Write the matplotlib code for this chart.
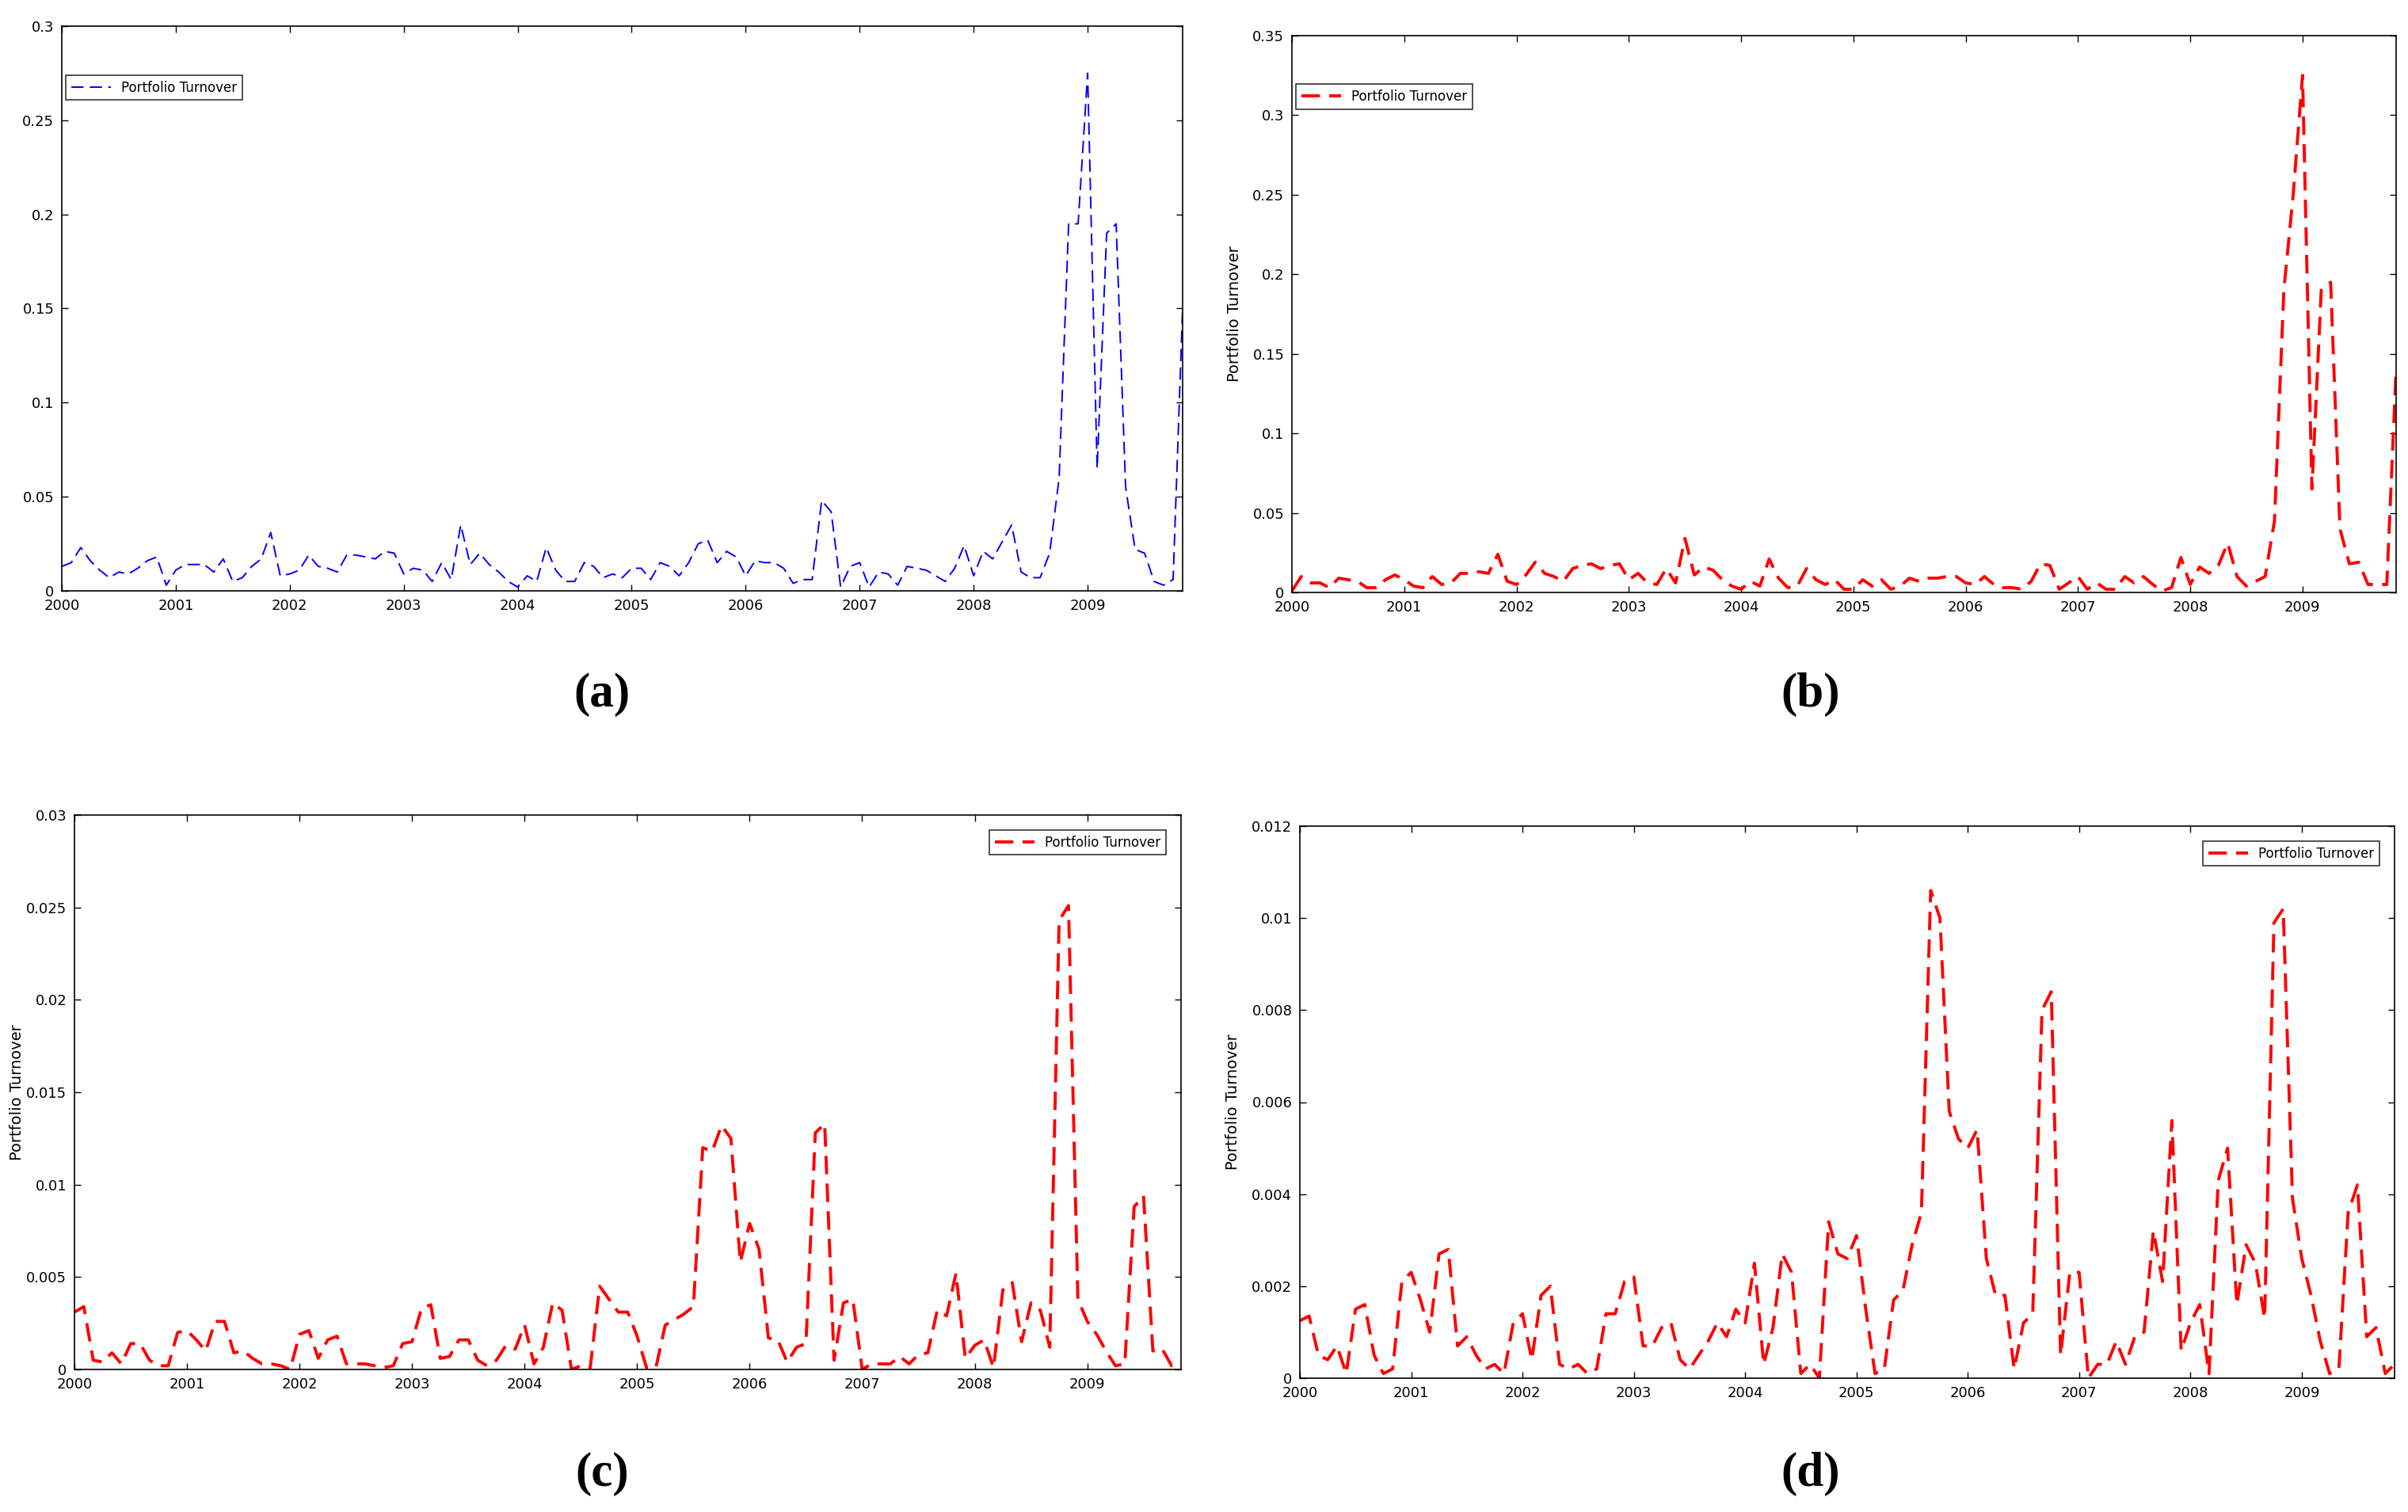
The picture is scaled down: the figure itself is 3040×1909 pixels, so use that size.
import numpy as np
import matplotlib
matplotlib.use("Agg")
import matplotlib.pyplot as plt

years = list(range(2000, 2010))
tick_labels = [str(y) for y in years]

turnover_a = [.013,.015,.023,.016,.011,.007,.010,.009,.012,.016,.018,.003,
              .011,.014,.014,.014,.010,.017,.005,.007,.013,.017,.031,.008,
              .009,.011,.019,.013,.012,.010,.019,.019,.018,.017,.021,.020,
              .009,.012,.011,.005,.015,.006,.035,.014,.020,.014,.010,.005,
              .002,.008,.005,.023,.011,.005,.005,.015,.013,.007,.009,.007,
              .012,.012,.006,.015,.013,.008,.015,.025,.027,.015,.021,.018,
              .008,.016,.015,.015,.012,.004,.006,.006,.048,.042,.002,.013,
              .015,.002,.010,.009,.003,.013,.012,.011,.008,.005,.012,.024,
              .008,.021,.017,.026,.035,.010,.007,.007,.020,.060,.195,.195,
              .275,.065,.190,.195,.055,.022,.020,.005,.003,.006,.150]
turnover_b = [.001,.010,.006,.006,.003,.009,.008,.007,.003,.003,.008,.011,
              .008,.004,.003,.010,.005,.006,.012,.012,.013,.012,.024,.007,
              .005,.011,.019,.012,.010,.007,.015,.017,.018,.015,.017,.018,
              .008,.012,.006,.005,.015,.006,.034,.011,.016,.014,.008,.004,
              .002,.007,.004,.021,.009,.003,.004,.015,.008,.005,.008,.002,
              .002,.008,.004,.008,.002,.004,.009,.007,.009,.009,.010,.010,
              .006,.005,.010,.005,.003,.003,.002,.007,.018,.017,.002,.006,
              .010,.002,.006,.002,.002,.010,.006,.010,.005,.001,.003,.022,
              .005,.016,.012,.017,.031,.010,.004,.007,.010,.045,.190,.250,
              .325,.065,.190,.195,.040,.018,.019,.005,.005,.005,.140]
turnover_c = [.0031,.0034,.0005,.0004,.0009,.0003,.0014,.0014,.0005,.0002,.0002,.0020,
              .0021,.0016,.0010,.0026,.0026,.0009,.0010,.0006,.0003,.0003,.0002,.0000,
              .0019,.0021,.0006,.0016,.0018,.0003,.0003,.0003,.0002,.0001,.0002,.0014,
              .0015,.0033,.0035,.0006,.0007,.0016,.0016,.0005,.0002,.0005,.0013,.0011,
              .0024,.0003,.0012,.0036,.0032,.0000,.0002,.0001,.0045,.0038,.0031,.0031,
              .0018,.0001,.0001,.0024,.0027,.0030,.0034,.0120,.0118,.0132,.0125,.0058,
              .0079,.0065,.0017,.0016,.0004,.0012,.0014,.0128,.0133,.0005,.0036,.0038,
              .0000,.0003,.0003,.0003,.0007,.0003,.0008,.0009,.0032,.0029,.0052,.0006,
              .0013,.0016,.0001,.0043,.0047,.0015,.0036,.0032,.0012,.0243,.0251,.0038,
              .0026,.0019,.0010,.0002,.0003,.0088,.0094,.0010,.0011,.0002,.0003]
turnover_d = [.00125,.00135,.0005,.0004,.0007,.0001,.0015,.0016,.0005,.0001,.0002,.0021,
              .0023,.0017,.0010,.0027,.0028,.0007,.0009,.0005,.0002,.0003,.0001,.0012,
              .0014,.0004,.0018,.0020,.0003,.0002,.0003,.0001,.0002,.0014,.0014,.0021,
              .0022,.0007,.0007,.0011,.0012,.0004,.0002,.0005,.0008,.0012,.0009,.0015,
              .0012,.0025,.0003,.0011,.0027,.0023,.0001,.0003,.0000,.0034,.0027,.0026,
              .0031,.0015,.0001,.0002,.0017,.0019,.0029,.0036,.0106,.0100,.0058,.0052,
              .0050,.0054,.0026,.0018,.0018,.0002,.0012,.0014,.0080,.0084,.0005,.0023,
              .0023,.0000,.0003,.0003,.0008,.0003,.0009,.0010,.0032,.0021,.0056,.0006,
              .0012,.0016,.0001,.0043,.0050,.0016,.0029,.0025,.0013,.0099,.0102,.0039,
              .0026,.0018,.0008,.0001,.0002,.0036,.0042,.0009,.0011,.0001,.0003]

W, H = 3040, 1909
fig = plt.figure(figsize=(W/200, H/200), dpi=200)

def add_axes(x0, y0, x1, y1):
    return fig.add_axes([x0/W, 1-y1/H, (x1-x0)/W, (y1-y0)/H])

panels = [
    dict(box=(78, 33, 1493, 746), data=turnover_a, color='blue', lw=0.7, ylim=0.3,
         ytl=['0','0.05','0.1','0.15','0.2','0.25','0.3'],
         legloc='upper left', ylabel=None, lab='(a)', labpos=(760, 877)),
    dict(box=(1631, 45, 3025, 748), data=turnover_b, color='red', lw=1.4, ylim=0.35,
         ytl=['0','0.05','0.1','0.15','0.2','0.25','0.3','0.35'],
         legloc='upper left', ylabel=-0.045, lab='(b)', labpos=(2286, 877)),
    dict(box=(94, 1029, 1491, 1729), data=turnover_c, color='red', lw=1.4, ylim=0.03,
         ytl=['0','0.005','0.01','0.015','0.02','0.025','0.03'],
         legloc='upper right', ylabel=-0.045, lab='(c)', labpos=(760, 1861)),
    dict(box=(1641, 1043, 3023, 1740), data=turnover_d, color='red', lw=1.4, ylim=0.012,
         ytl=['0','0.002','0.004','0.006','0.008','0.01','0.012'],
         legloc='upper right', ylabel=-0.054, lab='(d)', labpos=(2286, 1861)),
]

for p in panels:
    ax = add_axes(*p['box'])
    vals = np.array(p['data'])
    t = 2000 + np.arange(len(vals)) / 12.0
    ax.plot(t, vals, color=p['color'], lw=p['lw'], ls=(0, (6, 3)) if p['lw'] > 1 else (0, (8, 4)),
            label='Portfolio Turnover')
    ax.set_xlim(2000, t[-1])
    ax.set_ylim(0, p['ylim'])
    n = len(p['ytl'])
    ax.set_yticks(np.linspace(0, p['ylim'], n))
    ax.set_yticklabels(p['ytl'])
    ax.set_xticks(years)
    ax.set_xticklabels(tick_labels)
    ax.tick_params(direction='in', top=True, right=True, labelsize=6.5, length=3, width=0.5)
    for s in ax.spines.values():
        s.set_linewidth(0.6)
    if p['ylabel'] is not None:
        ax.set_ylabel('Portfolio Turnover', fontsize=7)
        ax.yaxis.set_label_coords(p['ylabel'], 0.5)
    leg = ax.legend(loc=p['legloc'], fontsize=6, frameon=True, fancybox=False,
                    edgecolor='black', handlelength=3,
                    bbox_to_anchor=(0.0, 0.92) if p['legloc'] == 'upper left' else (0.99, 0.98),
                    borderaxespad=0.3)
    leg.get_frame().set_linewidth(0.6)
    fig.text(p['labpos'][0]/W, 1-p['labpos'][1]/H, p['lab'], ha='center', va='center',
             fontsize=22, family='Liberation Serif', fontweight='bold')

fig.savefig('out.png', dpi=200)
